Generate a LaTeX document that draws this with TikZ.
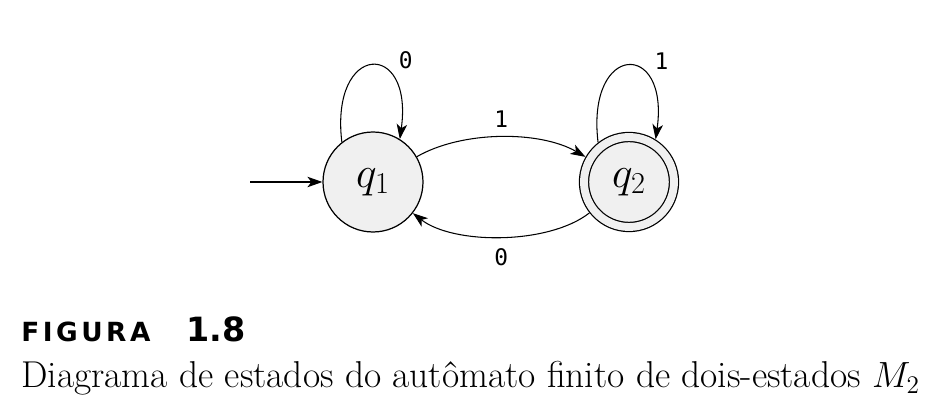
\documentclass[tikz,border=0pt]{standalone}
\usepackage{fontspec}
\setmonofont{DejaVu Sans Mono}
\newfontfamily\figfont{DejaVu Sans}
\def\trk{\kern2pt}
\usetikzlibrary{arrows.meta,positioning}
\begin{document}
\begin{tikzpicture}[x=0.02cm,y=0.02cm,
  estado/.style={circle, draw, line width=0.7pt, fill=gray!12, minimum size=2cm, inner sep=0pt, font=\fontsize{23}{26}\selectfont},
  aceita/.style={estado, minimum size=1.8cm, double=gray!12, double distance=4.5pt, outer sep=3pt},
  seta/.style={line width=0.6pt, -{Stealth[length=3mm,width=2.1mm,inset=0.8mm]}},
  rotulo/.style={font=\fontsize{13}{15}\selectfont\ttfamily}]

% Parameters
\def\yEstado{227}
\def\xUm{373}
\def\xDois{629}

% Frame
\useasboundingbox (0,0) rectangle (941,409);

% States
\node[estado] (q1) at (\xUm,\yEstado) {$q_1$};
\node[aceita] (q2) at (\xDois,\yEstado) {$q_2$};
\coordinate (ini) at (250,\yEstado);

% Start arrow
\draw[seta] (ini) -- (q1);

% Loops
\draw[seta] (q1.128) .. controls +(-12,100) and +(14,100) .. (q1.58)
  node[rotulo, pos=0.7, anchor=south west, inner sep=1pt, xshift=3pt, yshift=3pt] (l0) {0};
\draw[seta] (q2.128) .. controls +(-12,100) and +(14,100) .. (q2.58)
  node[rotulo, pos=0.7, anchor=south west, inner sep=1pt, xshift=3pt, yshift=3pt] (l1) {1};

% Transitions
\draw[seta] (q1) to[bend left=30, looseness=0.8] node[rotulo, above=2pt] (t1) {1} (q2);
\draw[seta] (q2) to[bend left=38, looseness=0.75] node[rotulo, below=3pt] (t0) {0} (q1);

% Caption
\node[anchor=base west, inner sep=0pt, font=\fontsize{15}{17}\selectfont\figfont\bfseries] (fig) at (21,67) {F\trk I\trk G\trk U\trk R\trk A};
\node[anchor=base west, inner sep=0pt, font=\fontsize{19}{22}\selectfont\figfont\bfseries] (num) at (186,67) {1.8};
\node[anchor=base west, inner sep=0pt, font=\fontsize{21.3}{25}\selectfont] (leg) at (21,21) {Diagrama de estados do autômato finito de dois-estados $M_2$};
\end{tikzpicture}
\end{document}
